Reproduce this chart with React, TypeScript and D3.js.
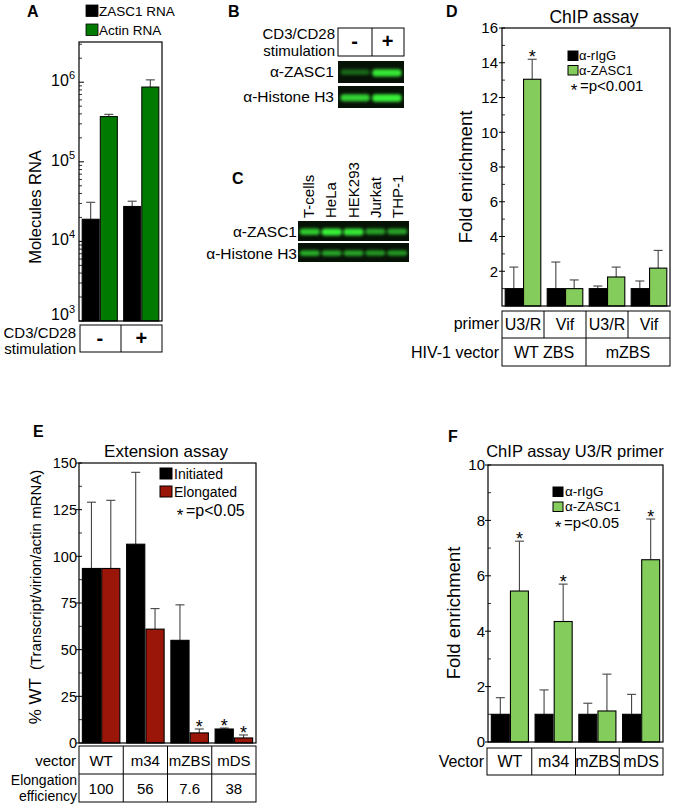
import React from 'react';
import * as d3 from 'd3';

const FONT = '"Liberation Sans", Arial, Helvetica, sans-serif';

// ---------- Panel A ----------
const aGroups = ['-', '+'];
const aSeries = ['ZASC1 RNA', 'Actin RNA'];
const aZasc1 = [19000, 27500];
const aZasc1Err = [31000, 32000];
const aActin = [370000, 870000];
const aActinErr = [395000, 1070000];
const aTicks = [3, 4, 5, 6];

// ---------- Panel B / C blots ----------
const bLanes = ['-', '+'];
const bZasc1 = [0.3, 0.95];
const bHistone = [0.85, 1.0];
const cLanes = ['T-cells', 'HeLa', 'HEK293', 'Jurkat', 'THP-1'];
const cZasc1 = [0.8, 1.0, 0.95, 0.6, 0.6];
const cHistone = [0.65, 0.6, 0.6, 0.55, 0.55];

// ---------- Panel D ----------
const dPrimers = ['U3/R', 'Vif', 'U3/R', 'Vif'];
const dVectors = ['WT ZBS', 'mZBS'];
const dSeries = ['α-rIgG', 'α-ZASC1'];
const dIgG = [1.0, 1.0, 1.0, 1.0];
const dIgGErr = [2.24, 2.53, 1.15, 1.44];
const dZasc = [13.05, 1.0, 1.67, 2.18];
const dZascErr = [14.2, 1.5, 2.24, 3.2];
const dStar = [true, false, false, false];
const dTicks = [2, 4, 6, 8, 10, 12, 14, 16];

// ---------- Panel E ----------
const eVectors = ['WT', 'm34', 'mZBS', 'mDS'];
const eEff = ['100', '56', '7.6', '38'];
const eSeries = ['Initiated', 'Elongated'];
const eInit = [93.5, 106.5, 55, 7.5];
const eInitErr = [129, 145, 74, 8];
const eElong = [93.5, 61, 5.4, 2.7];
const eElongErr = [130, 72, 7.5, 4.3];
const eInitStar = [false, false, false, true];
const eElongStar = [false, false, true, true];
const eTicks = [0, 25, 50, 75, 100, 125, 150];

// ---------- Panel F ----------
const fVectors = ['WT', 'm34', 'mZBS', 'mDS'];
const fSeries = ['α-rIgG', 'α-ZASC1'];
const fIgG = [1.0, 1.0, 1.0, 1.0];
const fIgGErr = [1.6, 1.88, 1.4, 1.72];
const fZasc = [5.45, 4.35, 1.12, 6.58];
const fZascErr = [7.25, 5.7, 2.45, 8.05];
const fStar = [true, true, false, true];
const fTicks = [0, 2, 4, 6, 8, 10];

const C_BLACK = '#000000';
const C_DKGREEN = '#007a00';
const C_LTGREEN = '#84cd5c';
const C_RED = '#9a1608';
const C_ERR = '#444444';

function ErrBar({ x, y0, y1, w = 8 }: { x: number; y0: number; y1: number; w?: number }) {
  return (
    <g stroke={C_ERR} strokeWidth={1.1}>
      <line x1={x} x2={x} y1={y0} y2={y1} />
      <line x1={x - w / 2} x2={x + w / 2} y1={y1} y2={y1} />
    </g>
  );
}

function Star({ x, y }: { x: number; y: number }) {
  return (
    <text x={x} y={y + 10} fontSize={18} textAnchor="middle">*</text>
  );
}

function Blot({ x, y, w, h, vals, id }: { x: number; y: number; w: number; h: number; vals: number[]; id: string }) {
  const lx = d3.scaleBand<number>().domain(vals.map((_, i) => i)).range([x, x + w]).padding(0.08);
  return (
    <g>
      <rect x={x} y={y} width={w} height={h} fill="#071207" />
      <g filter={`url(#${id})`}>
        {vals.map((v, i) => (
          <rect key={i} x={(lx(i) as number)} y={y + h * 0.38} width={lx.bandwidth()} height={h * 0.22 + v * 2.5}
            rx={3} fill={d3.interpolateRgb('#0a2a0a', '#38f038')(v)} />
        ))}
      </g>
    </g>
  );
}

function PanelA() {
  const y = d3.scaleLog().domain([1e3, 3.2e6]).range([321, 42]);
  const x0 = d3.scaleBand().domain(aGroups).range([79, 162]).paddingInner(0.1).paddingOuter(0.05);
  const x1 = d3.scaleBand().domain(aSeries).range([0, x0.bandwidth()]).padding(0.06);
  const minor: number[] = [];
  for (let e = 3; e < 7; e++) for (let m = 2; m < 10; m++) { const v = m * Math.pow(10, e); if (v < 3.2e6) minor.push(v); }
  const vals = [aZasc1, aActin];
  const errs = [aZasc1Err, aActinErr];
  const cols = [C_BLACK, C_DKGREEN];
  return (
    <g>
      <text x={27} y={17} fontSize={16} fontWeight="bold">A</text>
      {aSeries.map((s, i) => (
        <g key={s}>
          <rect x={86} y={i === 0 ? 5 : 24} width={12} height={11.5} fill={cols[i]} stroke="#000" strokeWidth={0.8} />
          <text x={99} y={i === 0 ? 16 : 35} fontSize={13.5}>{s}</text>
        </g>
      ))}
      {minor.map((v) => (
        <line key={v} x1={79} x2={82} y1={y(v)} y2={y(v)} stroke="#000" strokeWidth={0.8} />
      ))}
      {aTicks.map((e) => {
        const ty = y(Math.pow(10, e));
        return (
          <g key={e}>
            <line x1={79} x2={84} y1={ty} y2={ty} stroke="#000" />
            <text x={75} y={Math.min(ty + 4, 320)} fontSize={16} textAnchor="end">
              10<tspan dy={-7} fontSize={11}>{e}</tspan>
            </text>
          </g>
        );
      })}
      {aGroups.map((g, gi) => (
        <g key={g}>
          {aSeries.map((s, si) => {
            const bx = (x0(g) as number) + (x1(s) as number);
            const cx = bx + x1.bandwidth() / 2;
            return (
              <g key={s}>
                <ErrBar x={cx} y0={y(vals[si][gi])} y1={y(errs[si][gi])} w={9} />
                <rect x={bx} y={y(vals[si][gi])} width={x1.bandwidth()} height={321 - y(vals[si][gi])}
                  fill={cols[si]} stroke="#000" strokeWidth={1} />
              </g>
            );
          })}
        </g>
      ))}
      <rect x={79} y={42} width={83} height={279} fill="none" stroke="#000" strokeWidth={1.2} />
      <text transform="translate(41,207) rotate(-90)" fontSize={16.5} textAnchor="middle">Molecules RNA</text>
      <rect x={80} y={325} width={82} height={27} fill="none" stroke="#000" strokeWidth={1} />
      <line x1={121} x2={121} y1={325} y2={352} stroke="#000" />
      {aGroups.map((g) => (
        <text key={g} x={(x0(g) as number) + x0.bandwidth() / 2} y={345} fontSize={20} textAnchor="middle" fontWeight="bold">{g}</text>
      ))}
      <text x={76} y={338} fontSize={15} textAnchor="end">CD3/CD28</text>
      <text x={76} y={354} fontSize={15} textAnchor="end">stimulation</text>
    </g>
  );
}

function PanelBC() {
  const cx = d3.scaleBand().domain(cLanes).range([298, 409]);
  const bx = d3.scaleBand().domain(bLanes).range([338, 404]);
  return (
    <g>
      <text x={228} y={17} fontSize={16} fontWeight="bold">B</text>
      <rect x={338} y={28} width={66} height={28} fill="none" stroke="#000" />
      <line x1={372} x2={372} y1={28} y2={56} stroke="#000" />
      {bLanes.map((l) => (
        <text key={l} x={(bx(l) as number) + bx.bandwidth() / 2} y={48} fontSize={20} fontWeight="bold" textAnchor="middle">{l}</text>
      ))}
      <text x={335} y={39} fontSize={15} textAnchor="end">CD3/CD28</text>
      <text x={335} y={56} fontSize={15} textAnchor="end">stimulation</text>
      <Blot x={338} y={61} w={66} h={22} vals={bZasc1} id="blur1" />
      <Blot x={338} y={86} w={66} h={22} vals={bHistone} id="blur1" />
      <text x={334} y={77} fontSize={15.5} textAnchor="end">α-ZASC1</text>
      <text x={334} y={102} fontSize={15.5} textAnchor="end">α-Histone H3</text>

      <text x={232} y={184} fontSize={16} fontWeight="bold">C</text>
      {cLanes.map((l) => (
        <text key={l} transform={`translate(${(cx(l) as number) + cx.bandwidth() / 2 + 5},218) rotate(-90)`} fontSize={15}>{l}</text>
      ))}
      <Blot x={298} y={221} w={111} h={20} vals={cZasc1} id="blur1" />
      <Blot x={298} y={243} w={111} h={19} vals={cHistone} id="blur1" />
      <text x={297} y={237} fontSize={15.5} textAnchor="end">α-ZASC1</text>
      <text x={297} y={259} fontSize={15.5} textAnchor="end">α-Histone H3</text>
    </g>
  );
}

function LinearPanel(props: {
  left: number; right: number; top: number; bottom: number; max: number; ticks: number[]; minorStep: number;
  groups: string[]; s0: number[]; s0e: number[]; s1: number[]; s1e: number[]; c0: string; c1: string;
  star0?: boolean[]; star1?: boolean[]; tickEnd: number; tickSize: number;
}) {
  const { left, right, top, bottom, max, ticks, minorStep, groups, s0, s0e, s1, s1e, c0, c1, star0, star1, tickEnd, tickSize } = props;
  const y = d3.scaleLinear().domain([0, max]).range([bottom, top]);
  const x0 = d3.scaleBand().domain(groups.map((_, i) => String(i))).range([left, right]).paddingInner(0.1).paddingOuter(0.05);
  const x1 = d3.scaleBand().domain(['0', '1']).range([0, x0.bandwidth()]).padding(0.06);
  const minor = d3.range(minorStep, max, minorStep).filter((v) => !ticks.includes(v));
  const series = [
    { v: s0, e: s0e, c: c0, st: star0 },
    { v: s1, e: s1e, c: c1, st: star1 },
  ];
  return (
    <g>
      {minor.map((v) => (
        <line key={v} x1={left} x2={left + 3} y1={y(v)} y2={y(v)} stroke="#000" strokeWidth={0.8} />
      ))}
      {ticks.map((t) => (
        <g key={t}>
          <line x1={left - 3} x2={left + 3} y1={y(t)} y2={y(t)} stroke="#000" />
          <text x={tickEnd} y={y(t) + tickSize * 0.36} fontSize={tickSize} textAnchor="end">{t}</text>
        </g>
      ))}
      {groups.map((g, gi) => (
        <g key={gi}>
          {series.map((s, si) => {
            const bx = (x0(String(gi)) as number) + (x1(String(si)) as number);
            const cx = bx + x1.bandwidth() / 2;
            return (
              <g key={si}>
                <ErrBar x={cx} y0={y(s.v[gi])} y1={y(s.e[gi])} w={9} />
                <rect x={bx} y={y(s.v[gi])} width={x1.bandwidth()} height={bottom - y(s.v[gi])}
                  fill={s.c} stroke="#000" strokeWidth={1.1} />
                {s.st && s.st[gi] ? <Star x={cx} y={y(s.e[gi]) - 6} /> : null}
              </g>
            );
          })}
        </g>
      ))}
      <rect x={left} y={top} width={right - left} height={bottom - top} fill="none" stroke="#000" strokeWidth={1.2} />
    </g>
  );
}

function PanelD() {
  const left = 502, right = 670;
  const step = (right - left) / dPrimers.length;
  return (
    <g>
      <text x={446} y={17} fontSize={16} fontWeight="bold">D</text>
      <text x={594} y={23} fontSize={17.5} textAnchor="middle">ChIP assay</text>
      <LinearPanel left={left} right={right} top={28} bottom={306} max={16} ticks={dTicks} minorStep={1}
        groups={dPrimers} s0={dIgG} s0e={dIgGErr} s1={dZasc} s1e={dZascErr} c0={C_BLACK} c1={C_LTGREEN}
        star1={dStar} tickEnd={498} tickSize={15} />
      <text transform="translate(472,177) rotate(-90)" fontSize={18.5} textAnchor="middle">Fold enrichment</text>
      <rect x={568} y={51} width={10} height={9.5} fill={C_BLACK} stroke="#000" />
      <text x={579} y={60} fontSize={13}>{dSeries[0]}</text>
      <rect x={568} y={65.5} width={10} height={9.5} fill={C_LTGREEN} stroke="#000" />
      <text x={579} y={74.5} fontSize={13}>{dSeries[1]}</text>
      <text x={574} y={96} fontSize={17} textAnchor="middle">*</text>
      <text x={580} y={91} fontSize={15}>=p&lt;0.001</text>
      <rect x={502} y={311} width={168} height={55} fill="none" stroke="#000" />
      <line x1={502} x2={670} y1={338} y2={338} stroke="#000" />
      {[1, 2, 3].map((i) => (
        <line key={i} x1={left + i * step} x2={left + i * step} y1={311} y2={i === 2 ? 366 : 338} stroke="#000" />
      ))}
      {dPrimers.map((p, i) => (
        <text key={i} x={left + (i + 0.5) * step} y={330} fontSize={16} textAnchor="middle">{p}</text>
      ))}
      {dVectors.map((v, i) => (
        <text key={v} x={left + (i + 0.5) * 2 * step} y={358} fontSize={16} textAnchor="middle">{v}</text>
      ))}
      <text x={499} y={329} fontSize={16} textAnchor="end">primer</text>
      <text x={499} y={358} fontSize={16} textAnchor="end">HIV-1 vector</text>
    </g>
  );
}

function PanelE() {
  const left = 79, right = 256;
  const step = (right - left) / eVectors.length;
  return (
    <g>
      <text x={33} y={437} fontSize={16} fontWeight="bold">E</text>
      <text x={166} y={457} fontSize={17} textAnchor="middle">Extension assay</text>
      <LinearPanel left={left} right={right} top={463} bottom={743} max={150} ticks={eTicks} minorStep={12.5}
        groups={eVectors} s0={eInit} s0e={eInitErr} s1={eElong} s1e={eElongErr} c0={C_BLACK} c1={C_RED}
        star0={eInitStar} star1={eElongStar} tickEnd={77} tickSize={14.5} />
      <text transform="translate(41,597) rotate(-90)" textAnchor="middle">
        <tspan fontSize={17}>% WT</tspan>
        <tspan fontSize={15} dx={8}>(Transcript/virion/actin mRNA)</tspan>
      </text>
      <rect x={160} y={468} width={12} height={11} fill={C_BLACK} stroke="#000" />
      <text x={174} y={479} fontSize={14}>{eSeries[0]}</text>
      <rect x={160} y={486} width={12} height={11} fill={C_RED} stroke="#000" />
      <text x={174} y={497} fontSize={14}>{eSeries[1]}</text>
      <text x={180} y={521} fontSize={17} textAnchor="middle">*</text>
      <text x={186} y={516} fontSize={16}>=p&lt;0.05</text>
      <rect x={left} y={746} width={right - left} height={56} fill="none" stroke="#000" />
      <line x1={left} x2={right} y1={774} y2={774} stroke="#000" />
      {[1, 2, 3].map((i) => (
        <line key={i} x1={left + i * step} x2={left + i * step} y1={746} y2={802} stroke="#000" />
      ))}
      {eVectors.map((v, i) => (
        <text key={v} x={left + (i + 0.5) * step} y={766} fontSize={15} textAnchor="middle">{v}</text>
      ))}
      {eEff.map((v, i) => (
        <text key={i} x={left + (i + 0.5) * step} y={794} fontSize={15} textAnchor="middle">{v}</text>
      ))}
      <text x={76} y={766} fontSize={15} textAnchor="end">vector</text>
      <text x={77} y={785} fontSize={14} textAnchor="end">Elongation</text>
      <text x={77} y={801} fontSize={14} textAnchor="end">efficiency</text>
    </g>
  );
}

function PanelF() {
  const left = 488, right = 663;
  const step = (right - left) / fVectors.length;
  return (
    <g>
      <text x={448} y={442} fontSize={16} fontWeight="bold">F</text>
      <text x={575} y={457} fontSize={16.5} textAnchor="middle">ChIP assay U3/R primer</text>
      <LinearPanel left={left} right={right} top={465} bottom={742} max={10} ticks={fTicks} minorStep={1}
        groups={fVectors} s0={fIgG} s0e={fIgGErr} s1={fZasc} s1e={fZascErr} c0={C_BLACK} c1={C_LTGREEN}
        star1={fStar} tickEnd={485} tickSize={15} />
      <text transform="translate(460,613) rotate(-90)" fontSize={18.5} textAnchor="middle">Fold enrichment</text>
      <rect x={553} y={487} width={10} height={9.5} fill={C_BLACK} stroke="#000" />
      <text x={565} y={496} fontSize={13.5}>{fSeries[0]}</text>
      <rect x={553} y={502} width={10} height={9.5} fill={C_LTGREEN} stroke="#000" />
      <text x={565} y={511} fontSize={13.5}>{fSeries[1]}</text>
      <text x={558} y={533} fontSize={17} textAnchor="middle">*</text>
      <text x={564} y={528} fontSize={15}>=p&lt;0.05</text>
      <rect x={left - 1} y={748} width={right - left + 1} height={27} fill="none" stroke="#000" />
      {[1, 2, 3].map((i) => (
        <line key={i} x1={left + i * step} x2={left + i * step} y1={748} y2={775} stroke="#000" />
      ))}
      {fVectors.map((v, i) => (
        <text key={v} x={left + (i + 0.5) * step} y={767} fontSize={16} textAnchor="middle">{v}</text>
      ))}
      <text x={484} y={767} fontSize={16} textAnchor="end">Vector</text>
    </g>
  );
}

export default function App() {
  return (
    <svg width={673} height={808} viewBox="0 0 673 808"
      style={{ position: 'absolute', left: 0, top: 0, background: '#fff' }} fontFamily={FONT}>
      <defs>
        <filter id="blur1" x="-20%" y="-50%" width="140%" height="200%">
          <feGaussianBlur stdDeviation="1.6" />
        </filter>
      </defs>
      <rect x={0} y={0} width={673} height={808} fill="#fff" />
      <PanelA />
      <PanelBC />
      <PanelD />
      <PanelE />
      <PanelF />
    </svg>
  );
}
